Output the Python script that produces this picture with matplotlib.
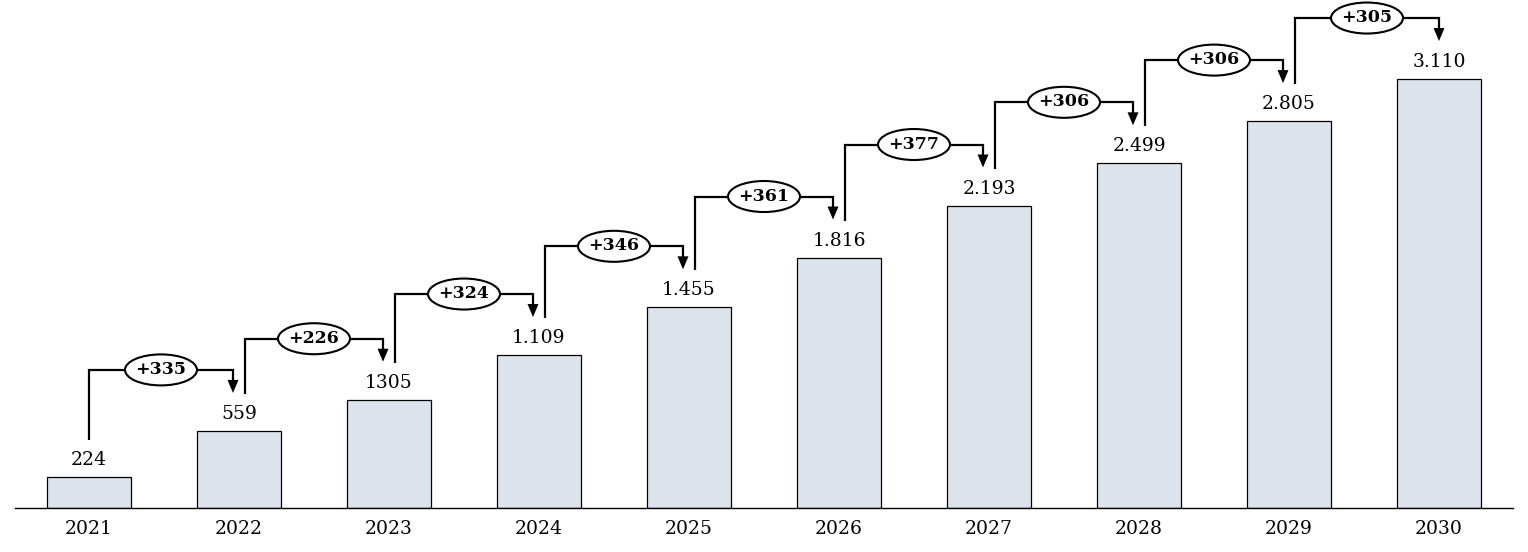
import matplotlib
matplotlib.use("Agg")
import matplotlib.pyplot as plt
from matplotlib.patches import Ellipse

years = ["2021", "2022", "2023", "2024", "2025", "2026", "2027", "2028", "2029", "2030"]
values = [224, 559, 785, 1109, 1455, 1816, 2193, 2499, 2805, 3110]
value_labels = ["224", "559", "1305", "1.109", "1.455", "1.816", "2.193", "2.499", "2.805", "3.110"]
delta_labels = ["+335", "+226", "+324", "+346", "+361", "+377", "+306", "+306", "+305"]

W, H, DPI = 1528, 552, 100
plt.rcParams['font.family'] = ['DejaVu Serif']

fig = plt.figure(figsize=(W / DPI, H / DPI), dpi=DPI)
ax_bottom_px = 508
ax = fig.add_axes([15 / W, (H - ax_bottom_px) / H, 1498 / W, ax_bottom_px / H])
ymax = 3683
ax.set_ylim(0, ymax)
ax.set_xlim(-0.4933, len(years) - 1 + 0.4933)

bar_color = "#DDE3ED"
x = list(range(len(years)))
ax.bar(x, values, width=0.56, color=bar_color, edgecolor="black", linewidth=0.9, zorder=2)

# pixel -> data conversion
py = ymax / ax_bottom_px
px = (len(years) - 1 + 2 * 0.4933) / 1498

for xi, v, lab in zip(x, values, value_labels):
    ax.text(xi, v + 8 * py, lab, ha="center", va="bottom", fontsize=13.5, zorder=3)

lw = 1.6
for i, d in enumerate(delta_labels):
    x0 = x[i] + (0 if i == 0 else 6 * px)
    x1 = x[i + 1] - (0 if i + 1 == len(years) - 1 else 6 * px)
    y_start = values[i] + 37 * py
    y_h = values[i + 1] + 61 * py
    y_tip = values[i + 1] + 38 * py
    ax.plot([x0, x0, x1, x1], [y_start, y_h, y_h, y_tip + 10 * py], color="black",
            lw=lw, solid_joinstyle="miter", solid_capstyle="butt", zorder=3)
    ax.fill([x1 - 5.5 * px, x1 + 5.5 * px, x1], [y_tip + 13 * py, y_tip + 13 * py, y_tip],
            color="black", lw=0, zorder=3)
    xc = (x0 + x1) / 2
    ax.add_patch(Ellipse((xc, y_h), 72 * px, 31 * py, fc="white", ec="black",
                         lw=1.5, zorder=4))
    ax.text(xc, y_h + 0.5 * py, d, ha="center", va="center", fontsize=12.5,
            fontweight="bold", zorder=5)

ax.set_xticks(x)
ax.set_xticklabels(years, fontsize=13.5)
ax.tick_params(axis="x", length=0, pad=9)
ax.set_yticks([])
for s in ["left", "right", "top"]:
    ax.spines[s].set_visible(False)
ax.spines["bottom"].set_linewidth(1.0)
ax.set_facecolor("none")

fig.savefig("out.png", dpi=DPI, facecolor="white")
